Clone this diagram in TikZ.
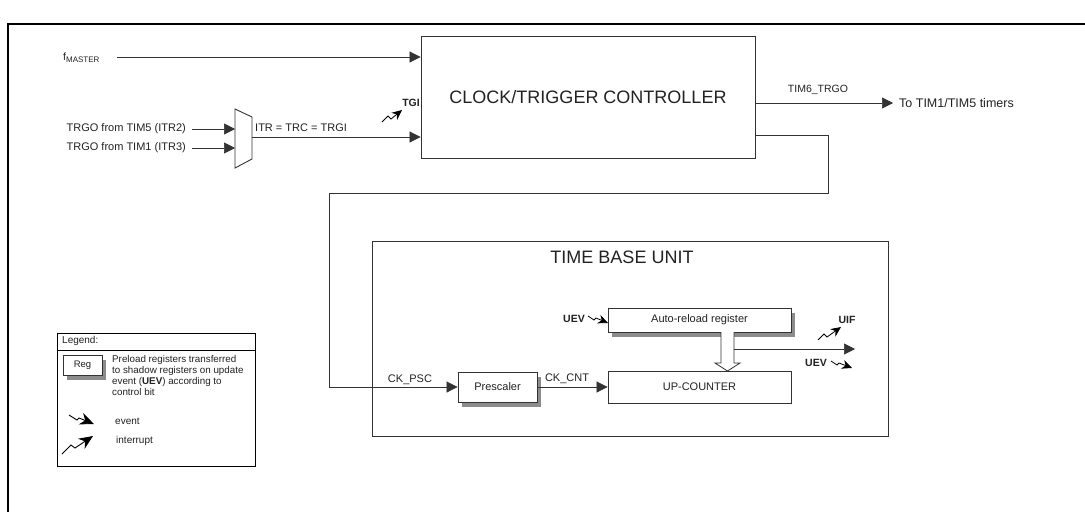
\documentclass[tikz,border=0pt]{standalone}
\usepackage{fontspec}
\setmainfont{Liberation Sans}
\usetikzlibrary{arrows.meta,shadows}
\definecolor{ink}{HTML}{222222}
\definecolor{lin}{HTML}{333333}
\begin{document}
\begin{tikzpicture}[x=1pt,y=-1pt,
  every node/.style={font=\fontsize{11}{13}\selectfont, text=ink, inner sep=0pt},
  ln/.style={draw=lin, line width=0.7pt},
  arr/.style={ln, -{Triangle[length=11pt,width=11pt]}},
  blk/.style={draw=lin, line width=0.8pt, fill=white},
  shd/.style={drop shadow={shadow xshift=4pt, shadow yshift=-5pt, fill=black!45, opacity=1}},
  evt/.style={draw=black, line width=0.8pt, -{Stealth[length=10pt,width=9pt]}},
  bigevt/.style={draw=black, line width=0.9pt, -{Stealth[length=14pt,width=12pt]}},
  big/.style={font=\fontsize{18}{20}\selectfont},
  bld/.style={font=\fontsize{10.5}{12}\selectfont\bfseries}
]
\useasboundingbox (0,0) rectangle (1085,512);
\fill[white] (0,0) rectangle (1085,512);
% frame
\draw[black, line width=2.2pt] (8,24) -- (1085,24);
\draw[black, line width=1.4pt] (8,23) -- (8,512);

% clock/trigger controller
\node[blk, minimum width=334pt, minimum height=122pt, big] (clk) at (588,97) {CLOCK/TRIGGER CONTROLLER};

% f master
\node[anchor=base west] (fm) at (63,60) {\fontsize{10.5}{12}\selectfont f\raisebox{-2.5pt}{\fontsize{8}{9}\selectfont MASTER}};
\coordinate (fmstart) at (117,57);
\draw[arr] (fmstart) -- (fmstart -| clk.west);

% multiplexer
\coordinate (muxin1) at (235,129);
\coordinate (muxin2) at (235,148);
\coordinate (muxout) at (252,137);
\draw[lin, line width=0.9pt] (235,109) -- (252,117) -- (252,159) -- (235,168) -- cycle;
\node[anchor=east] (in1) at (186,129) {TRGO from TIM5 (ITR2)};
\node[anchor=east] (in2) at (186,148) {TRGO from TIM1 (ITR3)};
\draw[arr] ([xshift=6pt]in1.east) -- (muxin1);
\draw[arr] ([xshift=6pt]in2.east) -- (muxin2);
\draw[arr] (muxout) -- (muxout -| clk.west);
\node[anchor=west] (itr) at (255,128) {ITR = TRC = TRGI};

% TGI
\node[bld] (tgi) at (411,103) {TGI};
\draw[evt] (382,122) -- (388,116) -- (391,119) -- (402,110);

% TIM6_TRGO
\coordinate (tout) at (893,103);
\draw[arr] (clk.east |- tout) -- (tout);
\node[font=\fontsize{10.5}{12}\selectfont] (trgo) at (818,90) {TIM6\_TRGO};
\node[anchor=west, font=\fontsize{12.5}{14}\selectfont] (totim) at (899,103) {To TIM1/TIM5 timers};

% time base unit
\node[draw=lin, line width=0.8pt, minimum width=516pt, minimum height=195pt] (tbu) at (630,338.5) {};
\node[big] (tbut) at (622,257) {TIME BASE UNIT};

\node[blk, shd, minimum width=79pt, minimum height=30pt] (presc) at (497.5,387) {Prescaler};
\node[blk, minimum width=183pt, minimum height=32pt] (upc) at (699.5,387) {UP-COUNTER};
\node[blk, shd, minimum width=183pt, minimum height=24pt] (arr) at (699.5,320) {Auto-reload register};

% feedback clock path
\coordinate (fb1) at (828,135);
\coordinate (fb2) at (828,193);
\coordinate (fb3) at (329,193);
\draw[arr] (clk.east |- fb1) -- (fb1) -- (fb2) -- (fb3) -- (fb3 |- presc.west) -- (presc.west);
\node (ckpsc) at (410,380) {CK\_PSC};
\draw[arr] (presc.east) -- (upc.west);
\node (ckcnt) at (567,379) {CK\_CNT};

% hollow preload arrow
\draw[lin, line width=0.8pt, fill=white] (721,332) -- (721,363) -- (715,363) -- (727.5,371) -- (740,363) -- (734,363) -- (734,332);

% output UEV
\coordinate (uout) at (855,349);
\draw[arr] (734,349) -- (uout);

\node[bld] (uif) at (847,320) {UIF};
\draw[evt] (818,340) -- (824,334) -- (827,337) -- (841,327);
\node[bld] (uev2) at (816,363) {UEV};
\draw[evt] (831,361) -- (837,365) -- (839,363) -- (852,368);

\node[bld] (uev1) at (574,319) {UEV};
\draw[evt] (588,316) -- (594,320) -- (596,318) -- (608,323);

% legend
\node[draw=black, line width=1pt, minimum width=198pt, minimum height=133pt] (leg) at (156,399.5) {};
\node[anchor=west, font=\fontsize{10}{12}\selectfont] (legt) at (62,341) {Legend:};
\draw[black, line width=0.8pt] (leg.west |- 0,350) -- (leg.east |- 0,350);
\node[blk, shd, minimum width=39pt, minimum height=20pt, font=\fontsize{9.5}{11}\selectfont] (reg) at (82.5,365) {Reg};
\node[anchor=north west, align=left, font=\fontsize{9.8}{11}\selectfont] (regt) at (112,355) {Preload registers transferred\\to shadow registers on update\\event (\textbf{UEV}) according to\\control bit};
\draw[bigevt] (69,415) -- (77,420) -- (79,418) -- (94,424);
\node[anchor=west, font=\fontsize{10}{12}\selectfont] (evl) at (115,421) {event};
\draw[bigevt] (62,454) -- (71,445) -- (75,448) -- (93,436);
\node[anchor=west, font=\fontsize{10}{12}\selectfont] (intl) at (116,441) {interrupt};
\end{tikzpicture}
\end{document}
